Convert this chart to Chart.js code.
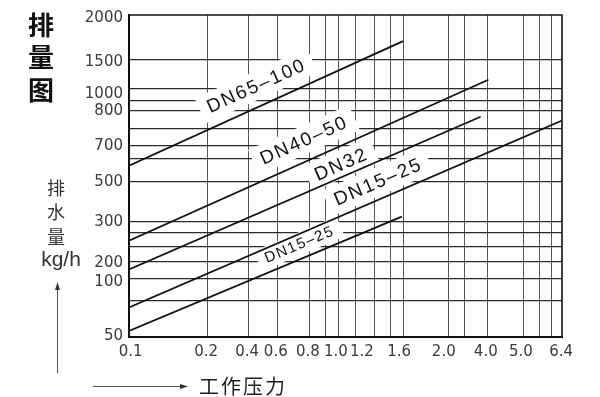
<!DOCTYPE html>
<html>
<head>
<meta charset="utf-8">
<script src="https://cdn.jsdelivr.net/npm/chart.js@4.4.1/dist/chart.umd.min.js"></script>
<style>
  html, body { margin: 0; padding: 0; background: #fff; }
</style>
</head>
<body>
<canvas id="chart" width="600" height="397"></canvas>
<script>
// the printed scales are not uniform, so every value is kept as a position
// along the axis in percent of the plot (0 = left / bottom, 100 = right / top)
const xTickLabels = ["0.1", "0.2", "0.4", "0.6", "0.8", "1.0", "1.2", "1.6", "2.0", "4.0", "5.0", "6.4"];
const xTickPos = [0.4, 17.8, 27.3, 33.9, 41.3, 47.8, 53.8, 62.4, 72.7, 82.4, 90.5, 99.8];
const xGridPos = [18.2, 27.7, 34.4, 41.8, 45.3, 48.3, 52.4, 56.7, 60.4, 63.3, 73.8, 77.5, 82.9, 91.0, 94.7, 97.6];

const yTickLabels = ["50", "100", "200", "300", "500", "700", "800", "1000", "1500", "2000"];
const yTickPos = [0.3, 17.1, 23.0, 35.7, 48.1, 59.3, 70.2, 75.5, 85.4, 99.1];
const yGridPos = [11.4, 18.1, 23.3, 28.2, 32.5, 35.8, 48.2, 55.5, 59.4, 64.8, 70.2, 73.4, 77.0, 86.3];

const seriesNames = ["DN65–100", "DN40–50", "DN32", "DN15–25", "DN15–25"];
const seriesStart = [[0, 53.2], [0, 29.9], [0, 21.0], [0, 9.2], [0, 1.9]];
const seriesEnd = [[63.3, 91.9], [83.0, 79.9], [81.2, 68.4], [100, 67.2], [63.0, 37.4]];

// where the name of each line is written
const labelAt = [[29.4, 78.1], [40.4, 61.2], [49.0, 53.7], [57.5, 48.3], [39.3, 28.9]];

const tickFont = { family: "DejaVu Sans", size: 15 };

// rotated line names on white boxes (over the grid, under the lines)
const lineLabels = {
  id: "lineLabels",
  beforeDatasetsDraw(chart) {
    const { ctx, scales: { x, y } } = chart;
    seriesNames.forEach((name, i) => {
      const dx = x.getPixelForValue(seriesEnd[i][0]) - x.getPixelForValue(seriesStart[i][0]);
      const dy = y.getPixelForValue(seriesEnd[i][1]) - y.getPixelForValue(seriesStart[i][1]);
      const size = i === 4 ? 15 : 19;
      ctx.save();
      ctx.translate(x.getPixelForValue(labelAt[i][0]), y.getPixelForValue(labelAt[i][1]));
      ctx.rotate(Math.atan2(dy, dx));
      ctx.font = size + 'px "Liberation Sans"';
      ctx.letterSpacing = i === 4 ? "1.5px" : "2px";
      const w = ctx.measureText(name).width;
      ctx.fillStyle = "#fff";
      ctx.fillRect(-w / 2 - 8, -size * 0.72, w + 16, size * 1.44);
      ctx.fillStyle = "#111";
      ctx.textAlign = "center";
      ctx.textBaseline = "middle";
      ctx.fillText(name, 0, 1);
      ctx.restore();
    });
  },
  afterDatasetsDraw(chart) {
    const { ctx, chartArea: a } = chart;
    ctx.save();
    ctx.strokeStyle = "#111";
    ctx.lineWidth = 1.6;
    ctx.beginPath();
    ctx.moveTo(a.left, a.top);
    ctx.lineTo(a.right, a.top);
    ctx.lineTo(a.right, a.bottom);
    ctx.stroke();
    ctx.restore();
  }
};

// titles and the two arrows outside the plot
const sideTexts = {
  id: "sideTexts",
  afterDraw(chart) {
    const ctx = chart.ctx;
    ctx.save();
    ctx.textAlign = "center";
    ctx.textBaseline = "middle";
    ctx.fillStyle = "#111";
    ctx.font = 'bold 26px "Noto Sans CJK SC"';
    ctx.fillText("排", 41, 25);
    ctx.fillText("量", 41, 57);
    ctx.fillText("图", 41, 90);

    ctx.fillStyle = "#333";
    ctx.font = '18px "Noto Sans CJK SC"';
    ctx.fillText("排", 56, 188);
    ctx.fillText("水", 56, 212);
    ctx.fillText("量", 56, 237);
    ctx.font = '21px "Liberation Sans"';
    ctx.fillText("kg/h", 61, 260);

    ctx.fillStyle = "#222";
    ctx.font = '20px "Noto Sans CJK SC"';
    ctx.letterSpacing = "2px";
    ctx.textAlign = "left";
    ctx.fillText("工作压力", 199, 386);
    ctx.letterSpacing = "0px";

    ctx.strokeStyle = "#555";
    ctx.fillStyle = "#333";
    ctx.lineWidth = 1;
    ctx.beginPath();
    ctx.moveTo(57.5, 373);
    ctx.lineTo(57.5, 288);
    ctx.moveTo(93, 386.5);
    ctx.lineTo(182, 386.5);
    ctx.stroke();
    ctx.beginPath();
    ctx.moveTo(57.5, 282);
    ctx.lineTo(55, 290);
    ctx.lineTo(60, 290);
    ctx.closePath();
    ctx.moveTo(188, 386.5);
    ctx.lineTo(180, 384);
    ctx.lineTo(180, 389);
    ctx.closePath();
    ctx.fill();
    ctx.restore();
  }
};

function allTicks(grid, labels) {
  return [...new Set([...grid, ...labels])].sort((a, b) => a - b).map(v => ({ value: v }));
}

new Chart(document.getElementById("chart"), {
  type: "scatter",
  data: {
    datasets: seriesNames.map((name, i) => ({
      label: name,
      data: [
        { x: seriesStart[i][0], y: seriesStart[i][1] },
        { x: seriesEnd[i][0], y: seriesEnd[i][1] }
      ],
      showLine: true,
      borderColor: "#111",
      borderWidth: 1.8,
      pointRadius: 0
    }))
  },
  options: {
    responsive: false,
    animation: false,
    layout: { padding: { top: 15, right: 38, bottom: 0, left: 0 } },
    plugins: { legend: { display: false }, tooltip: { enabled: false } },
    scales: {
      x: {
        type: "linear",
        min: 0,
        max: 100,
        afterBuildTicks: s => { s.ticks = allTicks(xGridPos, xTickPos); },
        afterFit: s => { s.height = 60; },
        grid: {
          drawTicks: false,
          color: c => (c.tick && xGridPos.includes(c.tick.value)) ? "#555" : "rgba(0,0,0,0)",
          lineWidth: 1
        },
        border: { color: "#111", width: 2 },
        ticks: {
          autoSkip: false,
          maxRotation: 0,
          padding: 6,
          color: "#3a3a3a",
          font: tickFont,
          callback: v => {
            const i = xTickPos.indexOf(v);
            return i < 0 ? "" : xTickLabels[i];
          }
        }
      },
      y: {
        type: "linear",
        min: 0,
        max: 100,
        afterBuildTicks: s => { s.ticks = allTicks(yGridPos, yTickPos); },
        afterFit: s => { s.width = 129; },
        grid: {
          drawTicks: false,
          color: c => (c.tick && yGridPos.includes(c.tick.value)) ? "#2a2a2a" : "rgba(0,0,0,0)",
          lineWidth: 1.2
        },
        border: { color: "#111", width: 2 },
        ticks: {
          autoSkip: false,
          padding: 6,
          color: "#3a3a3a",
          font: tickFont,
          callback: v => {
            const i = yTickPos.indexOf(v);
            return i < 0 ? "" : yTickLabels[i];
          }
        }
      }
    }
  },
  plugins: [lineLabels, sideTexts]
});
</script>
</body>
</html>
